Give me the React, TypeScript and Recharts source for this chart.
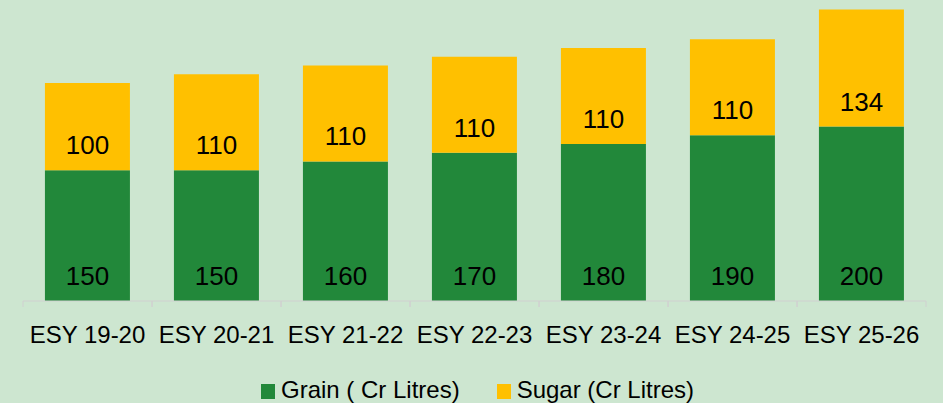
import React from "react";
import {
  BarChart,
  Bar,
  XAxis,
  YAxis,
  Legend,
  LabelList,
} from "recharts";

const categories = [
  "ESY 19-20",
  "ESY 20-21",
  "ESY 21-22",
  "ESY 22-23",
  "ESY 23-24",
  "ESY 24-25",
  "ESY 25-26",
];
const grain = [150, 150, 160, 170, 180, 190, 200];
const sugar = [100, 110, 110, 110, 110, 110, 134];
const seriesNames = ["Grain ( Cr Litres)", "Sugar (Cr Litres)"];

const GREEN = "#22883a";
const YELLOW = "#ffc000";
const BG = "#cde6d0";
const AXIS = "#d0d0d0";
const FONT = "'Liberation Sans', Arial, sans-serif";

const CHART_W = 943;
const MARGIN = { top: 0, right: 17, left: 23, bottom: 0 };
const TICK_SIZE = 6;
const TICK_MARGIN = 19;

const data = categories.map((name, i) => ({
  name,
  grain: grain[i],
  sugar: sugar[i],
}));

// Excel style: tick marks sit on the category boundaries, not under the bars
function BoundaryTick(props: any) {
  const { x, y, payload } = props;
  const band = (CHART_W - MARGIN.left - MARGIN.right) / categories.length;
  const half = payload?.offset ? payload.offset : band / 2;
  const axisY = y - TICK_SIZE - TICK_MARGIN;
  return (
    <g>
      <line x1={x - half} x2={x - half} y1={axisY} y2={axisY + TICK_SIZE} stroke={AXIS} />
      <line x1={x + half} x2={x + half} y1={axisY} y2={axisY + TICK_SIZE} stroke={AXIS} />
      <text
        x={x}
        y={y}
        dy="0.71em"
        textAnchor="middle"
        fill="#000"
        fontSize={24}
        fontFamily={FONT}
      >
        {payload.value}
      </text>
    </g>
  );
}

function LegendContent() {
  const items = [
    { label: seriesNames[0], color: GREEN },
    { label: seriesNames[1], color: YELLOW },
  ];
  return (
    <div
      style={{
        display: "flex",
        justifyContent: "center",
        gap: 37,
        paddingTop: 25,
        paddingLeft: 6,
        fontFamily: FONT,
        fontSize: 24,
        color: "#000",
      }}
    >
      {items.map((it) => (
        <div key={it.label} style={{ display: "flex", alignItems: "center" }}>
          <span
            style={{
              display: "inline-block",
              width: 14,
              height: 15,
              background: it.color,
              marginRight: 6,
              marginTop: 2,
            }}
          />
          <span>{it.label}</span>
        </div>
      ))}
    </div>
  );
}

export default function App() {
  return (
    <div style={{ width: CHART_W, height: 403, background: BG, fontFamily: FONT }}>
      <style>{`body{margin:0}`}</style>
      <BarChart
        width={CHART_W}
        height={403}
        data={data}
        margin={MARGIN}
        barCategoryGap="17%"
      >
        <XAxis
          dataKey="name"
          height={50}
          axisLine={{ stroke: AXIS }}
          tickLine={false}
          tickSize={TICK_SIZE}
          tickMargin={TICK_MARGIN}
          interval={0}
          tick={<BoundaryTick />}
        />
        <YAxis hide domain={[0, 345]} allowDataOverflow />
        <Legend verticalAlign="bottom" height={52} content={<LegendContent />} />
        <Bar dataKey="grain" stackId="a" fill={GREEN} isAnimationActive={false}>
          <LabelList
            dataKey="grain"
            position="insideBottom"
            offset={16}
            fill="#000"
            fontSize={26}
            fontFamily={FONT}
          />
        </Bar>
        <Bar dataKey="sugar" stackId="a" fill={YELLOW} isAnimationActive={false}>
          <LabelList
            dataKey="sugar"
            position="insideBottom"
            offset={16}
            fill="#000"
            fontSize={26}
            fontFamily={FONT}
          />
        </Bar>
      </BarChart>
    </div>
  );
}
